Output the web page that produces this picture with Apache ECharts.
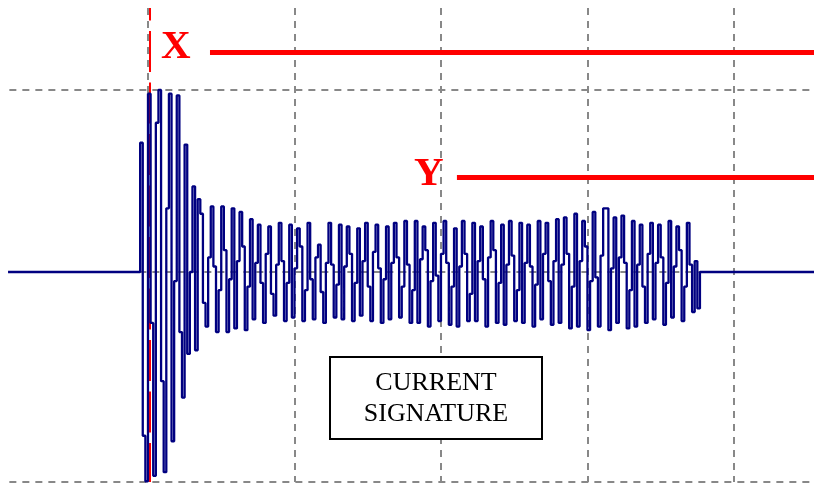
<!DOCTYPE html>
<html>
<head>
<meta charset="utf-8">
<script src="https://cdn.jsdelivr.net/npm/echarts@6/dist/echarts.min.js"></script>
<style>
html,body{margin:0;padding:0;background:#fff;}
#chart{width:814px;height:483px;}
</style>
</head>
<body>
<div id="chart"></div>
<script>
// x axis unit: one sample; one grid division = 56 samples
const samplesPerDivision = 56;
const xMin = -56;
const xMax = 254.6;
const yMin = -115.4;
const yMax = 145.05;
const baselineStart = -53.5;
const signalStartIndex = -3;
// signal values (100 = upper dashed line level), sample-and-hold
const burstValues = [71, -90, -115, 98, -28, -112, 82, 100, -60, -110, 35, 98, -93, -5, 97, -33, -69, 70, -45, 0, 47, -43, 40];
const steadyValues1 = [32, -17, -30, 8, 36, 3, -33, -10, 36, 12, -33, -4, 35, -31, 6, 33, 14, -32, -8, 29, -26, 5, 26, -6];
const steadyValues2 = [-28, 10, 25, -12, -24, 4, 27, 6, -27, -6, 26, -25, 2, 24, 14, -27, -10, 27, -4, -26, 8, 15, -11, -28, 5, 27, 4, -25, -7, 26, -26, 3, 25, 10, -27, -6, 24, -24, 6, 27, -8, -27, 11, 26, 2, -28, -4, 25, -26, 5, 27, 8, -25];
const steadyValues3 = [-8, 28, 4, -28, -10, 28, -28, 7, 25, 12, -30, -5, 27, -2, -27, 10, 28, 5, -29, -8, 24, -30, 3, 28, 10, -27, -12, 27, -27, 6, 25, -4, -30, 8, 28, 12, -28, -6, 26, -29, 4, 28, 9, -27, -10, 27, -28, 5, 26, 3, -30, -7, 28, -26, 10, 27, -5, -29, 6, 29, -28];
const steadyValues4 = [4, 30, 10, -31, -8, 32, -30, 6, 28, 14, -32, -5, 33, -3, -30, 9, 35, 35, -32, 2, 30, -28, 8, 31, 5, -31, -10, 28, -30, 4, 26];
const steadyValues5 = [-8, -28, 10, 27, -26, 5, 26, 8, -29, -6, 28, -25, 3, 25, 12, -27, -8, 27, 4, -22, 6, -20];
// reference levels
const gridLevels = [100, 0, yMin];
const gridLineStart = -53;
const markerXPos = 0.7;
const xLevel = 120.9, xLineStart = 23.7;
const yLevel = 52.2, yLineStart = 118.1;

const allValues = [].concat(burstValues, steadyValues1, steadyValues2, steadyValues3, steadyValues4, steadyValues5);
const signalData = [[baselineStart, 0], [signalStartIndex - 1, 0]];
allValues.forEach((v, k) => signalData.push([signalStartIndex + k, v]));
signalData.push([signalStartIndex + allValues.length, 0]);
signalData.push([xMax, 0]);

const gray = '#888888';
const chart = echarts.init(document.getElementById('chart'), null, {renderer: 'canvas'});
chart.setOption({
  animation: false,
  backgroundColor: '#ffffff',
  grid: {left: 1.5, right: 0, top: 8, bottom: 1, containLabel: false},
  xAxis: {
    type: 'value', min: xMin, max: xMax, interval: samplesPerDivision,
    axisLine: {show: false}, axisTick: {show: false}, axisLabel: {show: false},
    splitLine: {show: true, showMinLine: false, showMaxLine: false,
      lineStyle: {color: gray, width: 2, type: [7, 6]}}
  },
  yAxis: {
    type: 'value', min: yMin, max: yMax,
    axisLine: {show: false}, axisTick: {show: false}, axisLabel: {show: false},
    splitLine: {show: false}
  },
  series: [
    {
      type: 'line', data: [], z: 1, silent: true,
      markLine: {
        silent: true, symbol: 'none', label: {show: false},
        data: gridLevels.map(l => [{coord: [gridLineStart, l], lineStyle: {color: gray, width: 2, type: [7, 6]}}, {coord: [xMax, l]}])
      }
    },
    {
      type: 'line', data: [], z: 2, silent: true,
      markLine: {
        silent: true, symbol: 'none', label: {show: false},
        data: [
          [{coord: [markerXPos, yMax], lineStyle: {color: '#ff0000', width: 2, type: [41, 10.5], dashOffset: 28.5}}, {coord: [markerXPos, yMin]}]
        ]
      }
    },
    {
      type: 'line', step: 'end', data: signalData, showSymbol: false, z: 5, silent: true,
      lineStyle: {color: '#000080', width: 2.3}
    },
    {
      type: 'line', data: [], z: 6, silent: true,
      markLine: {
        silent: true, symbol: 'none', label: {show: false},
        data: [
          [{coord: [xLineStart, xLevel], lineStyle: {color: '#ff0000', width: 5, type: 'solid'}}, {coord: [xMax, xLevel]}],
          [{coord: [yLineStart, yLevel], lineStyle: {color: '#ff0000', width: 5, type: 'solid'}}, {coord: [xMax, yLevel]}]
        ]
      }
    }
  ],
  graphic: [
    {type: 'text', z: 100, style: {text: 'X', x: 161, y: 47.5, font: 'bold 41px "Liberation Serif", serif', fill: '#ff0000', verticalAlign: 'middle', align: 'left'}},
    {type: 'text', z: 100, style: {text: 'Y', x: 414, y: 174, font: 'bold 41px "Liberation Serif", serif', fill: '#ff0000', verticalAlign: 'middle', align: 'left'}},
    {type: 'rect', z: 100, shape: {x: 330, y: 357, width: 212, height: 82}, style: {fill: '#ffffff', stroke: '#000000', lineWidth: 2}},
    {type: 'text', z: 101, style: {text: 'CURRENT\nSIGNATURE', x: 436, y: 398.5, font: '26px "Liberation Serif", serif', lineHeight: 31, fill: '#000000', align: 'center', verticalAlign: 'middle'}}
  ]
});
</script>
</body>
</html>
